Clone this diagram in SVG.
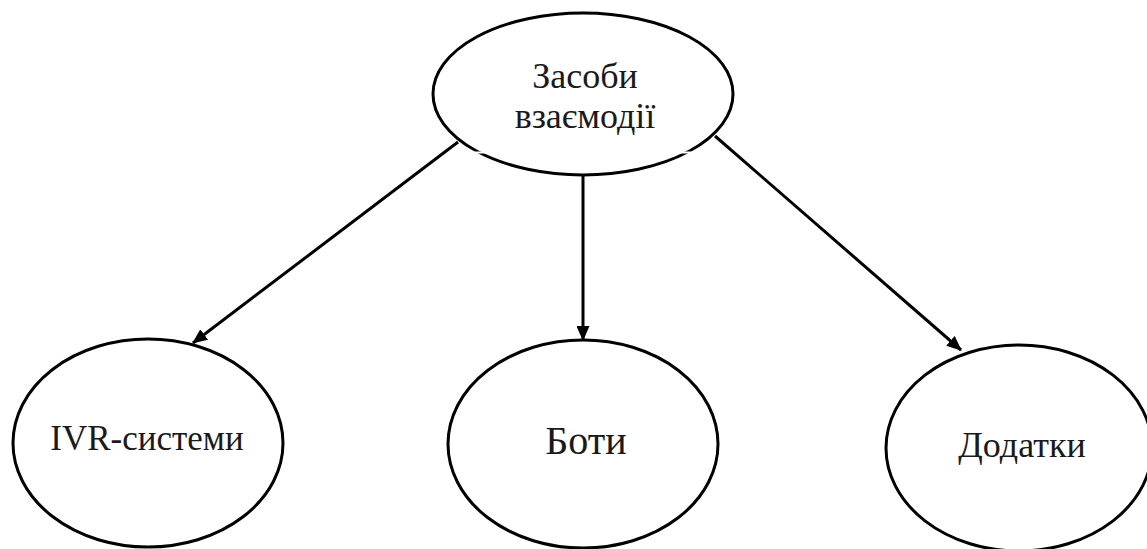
<svg xmlns="http://www.w3.org/2000/svg" width="1147" height="549" viewBox="0 0 1147 549">
  <style>
    .node { fill: #ffffff; stroke: #000000; stroke-width: 3; }
    .label { font-family: "Liberation Serif", "Times New Roman", serif; fill: #1a1a1a; text-anchor: middle; }
    .edge { stroke: #000000; stroke-width: 3; fill: none; marker-end: url(#arrow); }
  </style>
  <defs>
    <marker id="arrow" markerUnits="userSpaceOnUse" markerWidth="15" markerHeight="13" refX="14" refY="6.5" orient="auto">
      <path d="M0,0 L15,6.5 L0,13 Z" fill="#000000"/>
    </marker>
  </defs>
  <rect width="1147" height="549" fill="#ffffff"/>

  <g id="connectors">
    <line class="edge" x1="458" y1="142" x2="193" y2="343"/>
    <line class="edge" x1="583" y1="175" x2="583" y2="340"/>
    <line class="edge" x1="715" y1="136" x2="961" y2="350"/>
  </g>

  <g id="node-zasoby">
    <ellipse class="node" cx="583" cy="94" rx="150" ry="81"/>
    <line x1="470" y1="152.5" x2="700" y2="152.5" stroke="#ffffff" stroke-width="2"/>
    <text class="label" x="585" y="88" font-size="36">Засоби</text>
    <text class="label" x="585" y="128" font-size="36">взаємодії</text>
  </g>

  <g id="node-ivr">
    <ellipse class="node" cx="148" cy="443" rx="135" ry="104"/>
    <text class="label" x="147" y="450" font-size="35">IVR-системи</text>
  </g>

  <g id="node-boty">
    <ellipse class="node" cx="583" cy="444" rx="135" ry="104"/>
    <text class="label" x="586" y="454" font-size="40">Боти</text>
  </g>

  <g id="node-dodatky">
    <ellipse class="node" cx="1019" cy="448" rx="133" ry="103"/>
    <text class="label" x="1022" y="457" font-size="36">Додатки</text>
  </g>
</svg>
